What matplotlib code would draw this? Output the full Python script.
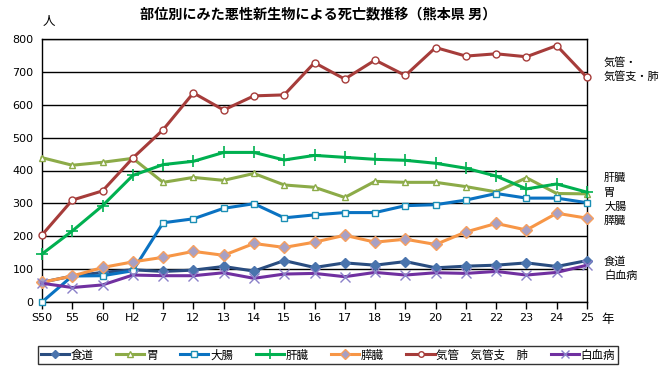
import matplotlib
matplotlib.use("Agg")
import matplotlib.pyplot as plt
import numpy as np

plt.rcParams['font.family'] = ['Noto Sans CJK JP', 'DejaVu Sans']

categories = ["S50", "55", "60", "H2", "7", "12", "13", "14", "15", "16",
              "17", "18", "19", "20", "21", "22", "23", "24", "25"]

shokudo = [60, 79, 90, 98, 93, 97, 108, 94, 126, 105, 119, 112, 123, 104, 109, 112, 119, 108, 126]
i_stomach = [439, 416, 425, 437, 364, 379, 370, 391, 356, 349, 318, 367, 364, 364, 351, 335, 378, 330, 329]
daicho = [0, 79, 80, 95, 241, 253, 285, 299, 256, 265, 272, 272, 293, 296, 310, 330, 316, 316, 302]
kanzo = [146, 216, 293, 385, 418, 428, 455, 455, 432, 446, 440, 434, 431, 422, 407, 383, 344, 359, 334]
suizo = [60, 79, 105, 122, 136, 154, 142, 178, 166, 182, 203, 182, 191, 175, 213, 239, 219, 270, 255]
kikan = [204, 310, 338, 438, 524, 636, 584, 627, 630, 728, 678, 736, 689, 774, 748, 755, 746, 780, 683]
hakketsu = [57, 44, 52, 82, 80, 80, 89, 72, 85, 87, 77, 90, 82, 89, 87, 93, 82, 90, 112]

W, H = 663, 376
fig = plt.figure(figsize=(W / 100, H / 100), dpi=100)
ax = fig.add_axes([42 / W, 1 - 302 / H, (587 - 42) / W, (302 - 39) / H])

x = np.arange(len(categories))

series = [
    ("食道", shokudo, dict(color="#2a4d80", marker="D", ms=5, mfc="#4a74ad", mec="#4a74ad")),
    ("胃", i_stomach, dict(color="#8cab48", marker="^", ms=5, mfc="white", mec="#8cab48")),
    ("大腸", daicho, dict(color="#0a72c2", marker="s", ms=5, mfc="white", mec="#1b8fb5")),
    ("肝臓", kanzo, dict(color="#00b050", marker="+", ms=9, mew=1.2, mec="#00b050")),
    ("膵臓", suizo, dict(color="#f79646", marker="D", ms=6, mfc="#a8a0c4", mec="#f7a060")),
    ("気管　気管支　肺", kikan, dict(color="#a63c3a", marker="o", ms=5, mfc="white", mec="#a63c3a")),
    ("白血病", hakketsu, dict(color="#7030a0", marker="x", ms=7, mew=1.0, mec="#8a80c8")),
]

handles = []
for name, vals, st in series:
    h, = ax.plot(x, vals, lw=2.2, label=name, zorder=3, clip_on=False, **st)
    handles.append(h)

ax.set_xlim(0, len(categories) - 1)
ax.set_ylim(0, 800)
ax.set_yticks(range(0, 801, 100))
ax.set_xticks(x)
ax.set_xticklabels(categories, fontsize=8, family=['DejaVu Sans'])
ax.tick_params(axis='y', length=0, labelsize=8, pad=6)
ax.tick_params(axis='x', length=5, direction='out', pad=3, width=1)
for lab in ax.get_yticklabels():
    lab.set_family(['DejaVu Sans'])
ax.yaxis.grid(True, color="black", lw=1)
ax.set_axisbelow(True)
for s in ax.spines.values():
    s.set_color("black")
    s.set_linewidth(1)

fig.text(318 / W, 1 - 14 / H, "部位別にみた悪性新生物による死亡数推移（熊本県 男）",
         ha="center", va="center", fontsize=10.2, fontweight="bold")
fig.text(49 / W, 1 - 22 / H, "人", ha="center", va="center", fontsize=9)
fig.text(608 / W, 1 - 320 / H, "年", ha="center", va="center", fontsize=9)

right_labels = [("気管・", 63), ("気管支・肺", 77), ("肝臓", 178), ("胃", 193),
                ("大腸", 207), ("膵臓", 221), ("食道", 262), ("白血病", 276)]
for t, yy in right_labels:
    fig.text(604 / W, 1 - yy / H, t, ha="left", va="center", fontsize=8)

leg = fig.legend(handles=handles, loc="center", ncol=7,
                 bbox_to_anchor=(328 / W, 1 - 355 / H), fontsize=8.3,
                 frameon=True, fancybox=False, edgecolor="black",
                 handlelength=2.45, handletextpad=0.15, columnspacing=1.95,
                 borderpad=0.25, borderaxespad=0, markerscale=0.8)
leg.get_frame().set_linewidth(1)

fig.savefig("out.png", dpi=100)
